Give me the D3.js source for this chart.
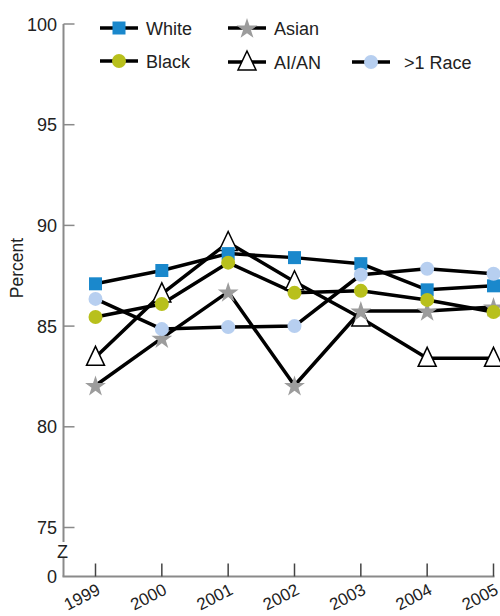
<!DOCTYPE html>
<html><head><meta charset="utf-8">
<script src="https://cdn.jsdelivr.net/npm/d3@7"></script>
<style>body{margin:0;background:#fff}svg{display:block}text{font-family:"Liberation Sans",Arial,sans-serif}</style>
</head><body><svg id="c" width="500" height="616"></svg>
<script>
const years = [1999, 2000, 2001, 2002, 2003, 2004, 2005];
const white = [87.1, 87.76, 88.6, 88.4, 88.1, 86.8, 87.0];
const black = [85.45, 86.1, 88.15, 86.65, 86.75, 86.3, 85.7];
const asian = [82.05, 84.4, 86.7, 82.05, 85.75, 85.75, 85.95];
const aian = [83.45, 86.6, 89.15, 87.2, 85.4, 83.4, 83.4];
const multi = [86.35, 84.85, 84.95, 85.0, 87.55, 87.85, 87.6];
const yTicks = [75, 80, 85, 90, 95, 100];
const seriesNames = ["White", "Black", "Asian", "AI/AN", ">1 Race"];

const svg = d3.select("#c");
const x = d3.scaleLinear().domain([1999, 2005]).range([95.5, 493.5]);
const y = d3.scaleLinear().domain([75, 100]).range([527.5, 24]);
const axisX = 63.5, baseY = 576.5;

const series = [
  {name: "White", vals: white, type: "square", fill: "#1a88cc", stroke: "none"},
  {name: "Black", vals: black, type: "circle", fill: "#b8c01c", stroke: "none"},
  {name: "Asian", vals: asian, type: "star", fill: "#9c9c9c", stroke: "none"},
  {name: "AI/AN", vals: aian, type: "triangle", fill: "#fff", stroke: "#000"},
  {name: ">1 Race", vals: multi, type: "circle", fill: "#b7cff0", stroke: "none"}
];
const order = ["AI/AN", "Asian", "White", "Black", ">1 Race"];

function marker(g, s, cx, cy) {
  if (s.type === "square") {
    g.append("rect").attr("x", cx - 6.5).attr("y", cy - 6.5).attr("width", 13).attr("height", 13).attr("fill", s.fill);
  } else if (s.type === "circle") {
    g.append("circle").attr("cx", cx).attr("cy", cy).attr("r", 7).attr("fill", s.fill);
  } else if (s.type === "star") {
    g.append("path").attr("d", d3.symbol().type(d3.symbolStar).size(135)()).attr("transform", `translate(${cx},${cy + 1})`).attr("fill", s.fill);
  } else if (s.type === "triangle") {
    g.append("path").attr("d", `M${cx},${cy - 11}L${cx + 9},${cy + 8}L${cx - 9},${cy + 8}Z`).attr("fill", s.fill).attr("stroke", s.stroke).attr("stroke-width", 1.5).attr("stroke-linejoin", "miter");
  }
}

// axes
const axisColor = "#8a8a8a";
svg.append("line").attr("x1", axisX).attr("x2", axisX).attr("y1", y(100)).attr("y2", 542).attr("stroke", axisColor).attr("stroke-width", 2);
svg.append("line").attr("x1", axisX).attr("x2", axisX).attr("y1", 557).attr("y2", baseY).attr("stroke", axisColor).attr("stroke-width", 2);
svg.append("text").attr("x", axisX - 1).attr("y", 557.5).attr("text-anchor", "middle").attr("font-size", 18).attr("fill", "#222").text("Z");
svg.append("line").attr("x1", axisX - 1).attr("x2", x(2005) + 1).attr("y1", baseY).attr("y2", baseY).attr("stroke", axisColor).attr("stroke-width", 2);

yTicks.forEach(t => {
  svg.append("line").attr("x1", axisX).attr("x2", axisX + 11).attr("y1", y(t)).attr("y2", y(t)).attr("stroke", axisColor).attr("stroke-width", 1.5);
  svg.append("text").attr("x", 57).attr("y", y(t) + 6.5).attr("text-anchor", "end").attr("font-size", 18).attr("fill", "#222").text(t);
});
svg.append("text").attr("x", 57).attr("y", baseY + 6.5).attr("text-anchor", "end").attr("font-size", 18).attr("fill", "#222").text("0");

years.forEach(yr => {
  svg.append("line").attr("x1", x(yr)).attr("x2", x(yr)).attr("y1", baseY).attr("y2", baseY - 13).attr("stroke", "#444").attr("stroke-width", 1.5);
  svg.append("text").attr("transform", `translate(${x(yr) + 6},${baseY + 17}) rotate(-27)`).attr("text-anchor", "end").attr("font-size", 17).attr("fill", "#222").text(yr);
});

svg.append("text").attr("transform", "translate(23,268) rotate(-90)").attr("text-anchor", "middle").attr("font-size", 17.5).attr("fill", "#222").text("Percent");

// lines
const line = d3.line().x((d, i) => x(years[i])).y(d => y(d));
series.forEach(s => {
  svg.append("path").attr("d", line(s.vals)).attr("fill", "none").attr("stroke", "#000").attr("stroke-width", 3.5).attr("stroke-linejoin", "round");
});
order.forEach(n => {
  const s = series.find(q => q.name === n);
  const g = svg.append("g");
  s.vals.forEach((v, i) => marker(g, s, x(years[i]), y(v)));
});

// legend
const legPos = {
  "White": [100, 28], "Black": [100, 61], "Asian": [228, 28], "AI/AN": [228, 62], ">1 Race": [352, 62]
};
series.forEach(s => {
  const [lx, ly] = legPos[s.name];
  const g = svg.append("g");
  g.append("line").attr("x1", lx).attr("x2", lx + 38).attr("y1", ly).attr("y2", ly).attr("stroke", "#000").attr("stroke-width", 3.5);
  marker(g, s, lx + 19, ly);
  g.append("text").attr("x", s.name === ">1 Race" ? lx + 52 : lx + 46).attr("y", ly + 6.5).attr("font-size", 18).attr("fill", "#222").text(s.name);
});
</script></body></html>
